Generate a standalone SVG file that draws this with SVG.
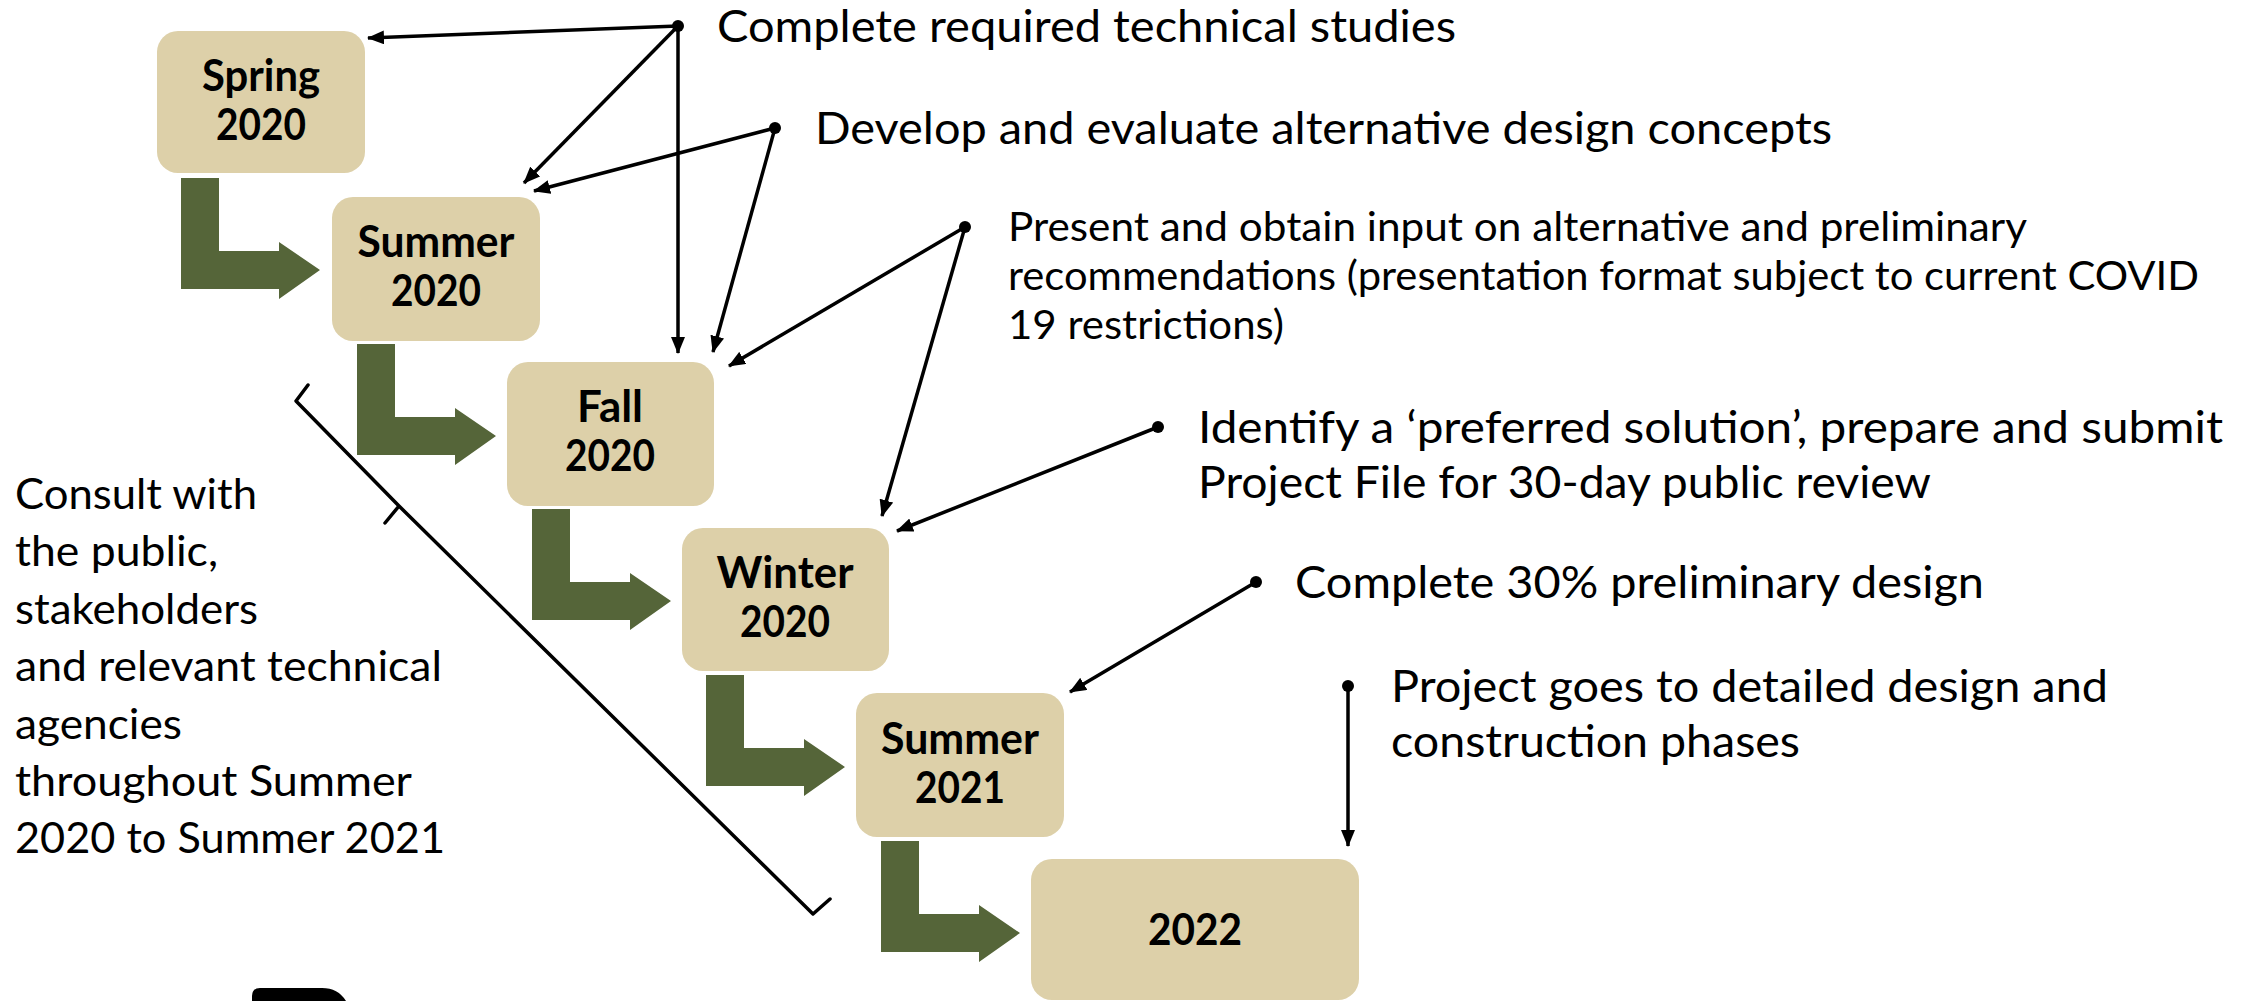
<svg xmlns="http://www.w3.org/2000/svg" width="2249" height="1001" viewBox="0 0 2249 1001">
<defs>
<style>
.box{fill:#DDD0A9;}
.lbl{font-family:Lato,"Liberation Sans",sans-serif;font-weight:bold;font-size:43px;fill:#000;text-anchor:middle;}
.t{font-family:Lato,"Liberation Sans",sans-serif;font-size:45px;fill:#000;}
.t3{font-family:Lato,"Liberation Sans",sans-serif;font-size:40.5px;fill:#000;}
.tl{font-family:Lato,"Liberation Sans",sans-serif;font-size:43px;fill:#000;}
.flow{fill:#556539;}
.con{stroke:#000;stroke-width:3.5;fill:none;marker-end:url(#ah);}
.dot{fill:#000;}
</style>
<marker id="ah" markerUnits="userSpaceOnUse" markerWidth="18" markerHeight="14" refX="16" refY="7" orient="auto">
<path d="M0,0 L17,7 L0,14 Z" fill="#000"/>
</marker>
<path id="bend" d="M0,0 H38 V73 H98 V64 L139,92 L98,121 V111 H0 Z"/>
</defs>
<rect width="2249" height="1001" fill="#fff"/>

<g id="flow-arrows" class="flow">
<use href="#bend" x="181" y="178"/>
<use href="#bend" x="357" y="344"/>
<use href="#bend" x="532" y="509"/>
<use href="#bend" x="706" y="675"/>
<use href="#bend" x="881" y="841"/>
</g>

<g id="node-spring2020">
<rect class="box" x="157" y="31" width="208" height="142" rx="21"/>
<text class="lbl" x="261" y="91" textLength="118" lengthAdjust="spacingAndGlyphs">Spring</text>
<text class="lbl" x="261" y="140" textLength="90" lengthAdjust="spacingAndGlyphs">2020</text>
</g>
<g id="node-summer2020">
<rect class="box" x="332" y="197" width="208" height="144" rx="21"/>
<text class="lbl" x="436" y="257" textLength="157" lengthAdjust="spacingAndGlyphs">Summer</text>
<text class="lbl" x="436" y="306" textLength="90" lengthAdjust="spacingAndGlyphs">2020</text>
</g>
<g id="node-fall2020">
<rect class="box" x="507" y="362" width="207" height="144" rx="21"/>
<text class="lbl" x="610" y="422" textLength="66" lengthAdjust="spacingAndGlyphs">Fall</text>
<text class="lbl" x="610" y="471" textLength="90" lengthAdjust="spacingAndGlyphs">2020</text>
</g>
<g id="node-winter2020">
<rect class="box" x="682" y="528" width="207" height="143" rx="21"/>
<text class="lbl" x="785" y="588" textLength="137" lengthAdjust="spacingAndGlyphs">Winter</text>
<text class="lbl" x="785" y="637" textLength="90" lengthAdjust="spacingAndGlyphs">2020</text>
</g>
<g id="node-summer2021">
<rect class="box" x="856" y="693" width="208" height="144" rx="21"/>
<text class="lbl" x="960" y="754" textLength="158" lengthAdjust="spacingAndGlyphs">Summer</text>
<text class="lbl" x="960" y="803" textLength="90" lengthAdjust="spacingAndGlyphs">2021</text>
</g>
<g id="node-2022">
<rect class="box" x="1031" y="859" width="328" height="141" rx="21"/>
<text class="lbl" x="1195" y="945" textLength="94" lengthAdjust="spacingAndGlyphs">2022</text>
</g>

<g id="connectors">
<path class="con" d="M678,26 L368,38"/>
<path class="con" d="M678,26 L524,183"/>
<path class="con" d="M678,26 L678,353"/>
<path class="con" d="M775,128 L534,191"/>
<path class="con" d="M775,128 L713,352"/>
<path class="con" d="M965,227 L729,366"/>
<path class="con" d="M965,227 L882,516"/>
<path class="con" d="M1158,427 L897,531"/>
<path class="con" d="M1256,582 L1070,692"/>
<path class="con" d="M1348,686 L1348,846"/>
<circle class="dot" cx="678" cy="26" r="6"/>
<circle class="dot" cx="775" cy="128" r="6"/>
<circle class="dot" cx="965" cy="227" r="6"/>
<circle class="dot" cx="1158" cy="427" r="6"/>
<circle class="dot" cx="1256" cy="582" r="6"/>
<circle class="dot" cx="1348" cy="686" r="6"/>
</g>

<g id="note-1"><text class="t" x="717" y="42" textLength="739" lengthAdjust="spacingAndGlyphs">Complete required technical studies</text></g>
<g id="note-2"><text class="t" x="815" y="144" textLength="1017" lengthAdjust="spacingAndGlyphs">Develop and evaluate alternative design concepts</text></g>
<g id="note-3">
<text class="t3" x="1008" y="241" textLength="1019" lengthAdjust="spacingAndGlyphs">Present and obtain input on alternative and preliminary</text>
<text class="t3" x="1008" y="290" textLength="1191" lengthAdjust="spacingAndGlyphs">recommendations (presentation format subject to current COVID</text>
<text class="t3" x="1008" y="339" textLength="276" lengthAdjust="spacingAndGlyphs">19 restrictions)</text>
</g>
<g id="note-4">
<text class="t" x="1198" y="443" textLength="1025" lengthAdjust="spacingAndGlyphs">Identify a ‘preferred solution’, prepare and submit</text>
<text class="t" x="1198" y="498" textLength="733" lengthAdjust="spacingAndGlyphs">Project File for 30-day public review</text>
</g>
<g id="note-5"><text class="t" x="1295" y="598" textLength="689" lengthAdjust="spacingAndGlyphs">Complete 30% preliminary design</text></g>
<g id="note-6">
<text class="t" x="1391" y="702" textLength="717" lengthAdjust="spacingAndGlyphs">Project goes to detailed design and</text>
<text class="t" x="1391" y="757" textLength="409" lengthAdjust="spacingAndGlyphs">construction phases</text>
</g>

<g id="consult-brace">
<path d="M308,385 L296,401 L399,506 L813,914 L830,899 M399,506 L385,523" fill="none" stroke="#000" stroke-width="3.5" stroke-linejoin="round" stroke-linecap="round"/>
</g>
<g id="consult-note">
<text class="tl" x="15" y="509" textLength="242" lengthAdjust="spacingAndGlyphs">Consult with</text>
<text class="tl" x="15" y="566" textLength="203" lengthAdjust="spacingAndGlyphs">the public,</text>
<text class="tl" x="15" y="624" textLength="243" lengthAdjust="spacingAndGlyphs">stakeholders</text>
<text class="tl" x="15" y="681" textLength="427" lengthAdjust="spacingAndGlyphs">and relevant technical</text>
<text class="tl" x="15" y="739" textLength="167" lengthAdjust="spacingAndGlyphs">agencies</text>
<text class="tl" x="15" y="796" textLength="397" lengthAdjust="spacingAndGlyphs">throughout Summer</text>
<text class="tl" x="15" y="853" textLength="430" lengthAdjust="spacingAndGlyphs">2020 to Summer 2021</text>
</g>

<path id="logo-fragment" d="M252,1001 V996 Q252,988 260,988 H322 Q338,988 346,1001 Z" fill="#000"/>
</svg>
